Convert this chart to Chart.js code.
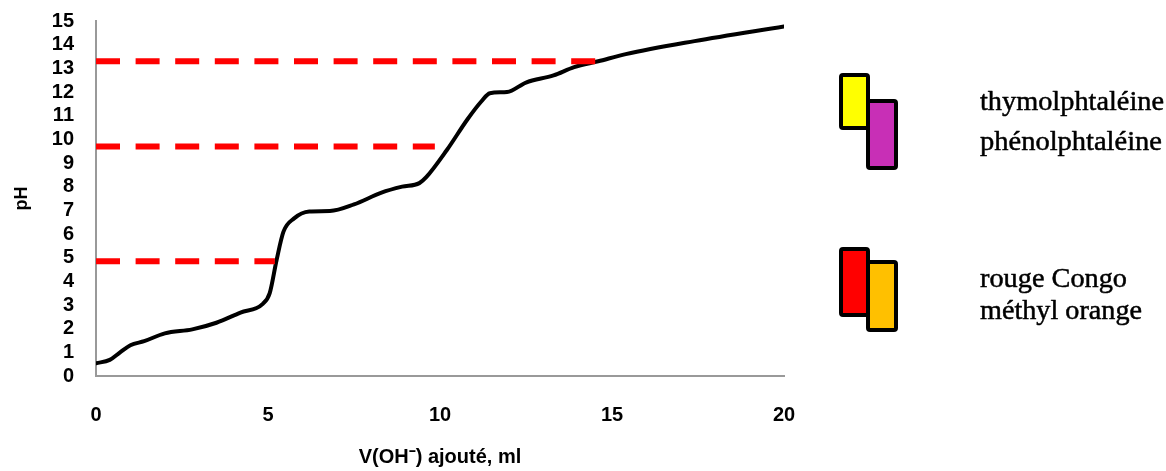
<!DOCTYPE html>
<html>
<head>
<meta charset="utf-8">
<script src="https://cdn.jsdelivr.net/npm/chart.js@4/dist/chart.umd.min.js"></script>
<style>
html,body{margin:0;padding:0;background:#fff;}
#wrap{width:1166px;height:471px;position:relative;}
</style>
</head>
<body>
<div id="wrap"><canvas id="c" width="1166" height="471"></canvas></div>
<script>
// ---- data ----
const volumes = [0, 0.4, 0.7, 1.0, 1.4, 2.0, 2.8, 3.5, 4.2, 4.85, 5.05, 5.25, 5.45, 5.75, 6.2, 6.8, 7.5, 8.3, 8.9, 9.4, 9.6, 10.2, 10.8, 11.2, 11.45, 11.95, 12.5, 13.3, 13.9, 14.6, 15.4, 17.4, 20];
const phValues = [0.54, 0.68, 1.0, 1.3, 1.47, 1.8, 1.97, 2.25, 2.68, 3.05, 3.5, 4.9, 6.1, 6.65, 6.95, 6.97, 7.25, 7.75, 8.0, 8.15, 8.4, 9.55, 10.85, 11.6, 11.95, 12.0, 12.4, 12.7, 13.05, 13.3, 13.6, 14.15, 14.77];
const indicatorLevels = [4.85, 9.7, 13.3];
const indicatorEnds = [5.2, 9.85, 14.55];
const xTickValues = [0, 5, 10, 15, 20];
const yTickValues = [0, 1, 2, 3, 4, 5, 6, 7, 8, 9, 10, 11, 12, 13, 14, 15];
const xTitle = 'V(OH\u207B) ajouté, ml';
const yTitle = 'pH';
const legendNames = [['thymolphtaléine', 'phénolphtaléine'], ['rouge Congo', 'méthyl orange']];
const legendColors = [['#FFFF00', '#C82FB6'], ['#FF0000', '#FFC000']];

// ---- chart ----
const sansBold = (size) => ({ family: '"Liberation Sans", Arial, sans-serif', size: size, weight: 'bold' });

const hlineDatasets = indicatorLevels.map((lvl, i) => ({
  data: [{ x: 0, y: lvl }, { x: indicatorEnds[i], y: lvl }],
  showLine: true,
  borderColor: '#FF0000',
  borderWidth: 6,
  borderDash: [24, 15.6],
  borderCapStyle: 'butt',
  pointRadius: 0,
  tension: 0
}));

const curveDataset = {
  data: volumes.map((v, i) => ({ x: v, y: phValues[i] })),
  showLine: true,
  borderColor: '#000000',
  borderWidth: 4,
  pointRadius: 0,
  cubicInterpolationMode: 'monotone',
  borderCapStyle: 'round',
  borderJoinStyle: 'round'
};

const legendPlugin = {
  id: 'indicatorLegend',
  afterDraw(chart) {
    const ctx = chart.ctx;
    ctx.save();
    const boxes = [
      [[841, 75, 27, 53], [868, 101, 28, 67]],
      [[841, 249, 27, 66], [868, 262, 28, 68]]
    ];
    boxes.forEach((grp, g) => {
      grp.forEach((b, k) => {
        ctx.beginPath();
        ctx.roundRect(b[0], b[1], b[2], b[3], 2);
        ctx.fillStyle = legendColors[g][k];
        ctx.fill();
        ctx.lineWidth = 4;
        ctx.strokeStyle = '#000';
        ctx.lineJoin = 'round';
        ctx.stroke();
      });
    });
    const texts = [
      [[980, 110, 184], [980, 150, 182]],
      [[980, 287, 147], [980, 319, 162]]
    ];
    ctx.fillStyle = '#000';
    ctx.strokeStyle = '#000';
    ctx.lineWidth = 0.5;
    ctx.font = '28px "Liberation Serif", "Times New Roman", serif';
    ctx.textBaseline = 'alphabetic';
    ctx.textAlign = 'left';
    texts.forEach((grp, g) => {
      grp.forEach((t, k) => {
        const s = legendNames[g][k];
        const w = ctx.measureText(s).width;
        ctx.save();
        ctx.translate(t[0], t[1]);
        ctx.scale(t[2] / w, 1);
        ctx.fillText(s, 0, 0);
        ctx.strokeText(s, 0, 0);
        ctx.restore();
      });
    });
    ctx.restore();
  }
};

new Chart(document.getElementById('c'), {
  type: 'scatter',
  data: { datasets: [...hlineDatasets, curveDataset] },
  options: {
    responsive: false,
    animation: false,
    events: [],
    layout: { padding: { left: 0, right: 382, top: 21, bottom: 0 } },
    plugins: { legend: { display: false }, tooltip: { enabled: false } },
    scales: {
      x: {
        type: 'linear',
        min: 0,
        max: 20,
        afterBuildTicks: (s) => { s.ticks = xTickValues.map(v => ({ value: v })); },
        afterFit: (s) => { s.height = 95; s.paddingLeft = 0; s.paddingRight = 0; },
        grid: { display: false, drawTicks: false },
        border: { display: true, color: '#999999', width: 2 },
        ticks: { padding: 27, color: '#000', font: sansBold(20), maxRotation: 0, autoSkip: false },
        title: { display: true, text: xTitle, color: '#000', font: sansBold(20), padding: { top: 0, bottom: 2 } }
      },
      y: {
        type: 'linear',
        min: 0,
        max: 15,
        afterBuildTicks: (s) => { s.ticks = yTickValues.map(v => ({ value: v })); },
        afterFit: (s) => { s.width = 96; s.paddingTop = 0; s.paddingBottom = 0; },
        grid: { display: false, drawTicks: false },
        border: { display: true, color: '#999999', width: 2 },
        ticks: { padding: 22, color: '#000', font: sansBold(20), autoSkip: false },
        title: { display: true, text: yTitle, color: '#000', font: sansBold(18), padding: { top: 11, bottom: 0 } }
      }
    }
  },
  plugins: [legendPlugin]
});
</script>
</body>
</html>
